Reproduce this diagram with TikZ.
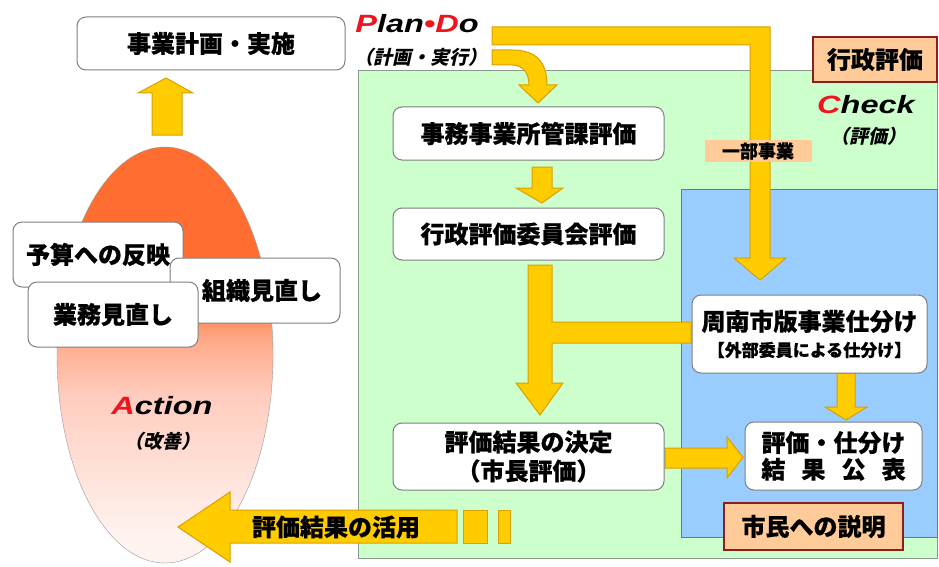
\documentclass[tikz,border=0pt]{standalone}
\usepackage{fontspec}
\setmainfont{Liberation Sans}
\newfontfamily\jp{Noto Sans CJK JP}[BoldFeatures={FakeBold=0.5}]
\newfontfamily\jpsl{Noto Sans CJK JP}[FakeSlant=0.22]
\newfontfamily\widelat{Liberation Sans}[FakeStretch=1.3]
\usetikzlibrary{calc}
\definecolor{gfill}{HTML}{CCFFCC}
\definecolor{gborder}{HTML}{8A9A8A}
\definecolor{bfill}{HTML}{99CCFF}
\definecolor{bborder}{HTML}{5C7C99}
\definecolor{yfill}{HTML}{FFCC00}
\definecolor{ydraw}{HTML}{D9A000}
\definecolor{peach}{HTML}{FFCC99}
\definecolor{darkred}{HTML}{8B1F1F}
\definecolor{boxgray}{HTML}{7F7F7F}
\definecolor{pdred}{HTML}{F0141E}
\definecolor{eorange}{HTML}{FF6E30}
\definecolor{esalmon}{HTML}{FFA988}
\definecolor{epink}{HTML}{FFCDBF}
\definecolor{elight}{HTML}{FFF3F0}
\pgfdeclareverticalshading{eshade}{100bp}{color(0bp)=(elight); color(28bp)=(elight); color(45bp)=(epink); color(52bp)=(esalmon); color(57bp)=(eorange); color(100bp)=(eorange)}
\newcommand\jpfont{\jp\bfseries\fontsize{24}{29}\selectfont}
\newcommand\latfont{\widelat\bfseries\itshape\fontsize{25}{30}\selectfont}
\tikzset{
  rbox/.style={draw=boxgray, line width=1pt, fill=white, rounded corners=9pt, inner sep=0pt, align=center, font=\jpfont},
  redbox/.style={draw=darkred, line width=2.2pt, fill=peach, inner sep=0pt, align=center, font=\jpfont},
  yarrow/.style={fill=yfill, draw=ydraw, line width=1pt, line join=miter},
  sltext/.style={font=\jpsl\bfseries\fontsize{19}{22}\selectfont, inner sep=0pt},
  lattext/.style={font=\latfont, inner sep=0pt},
}
\begin{document}
\begin{tikzpicture}[x=1pt,y=-1pt]
\useasboundingbox (0,0) rectangle (939,567);
\fill[white] (0,0) rectangle (939,567);
% regions
\draw[draw=gborder, fill=gfill, line width=1pt] (358,71) rectangle (937,558);
\draw[draw=bborder, fill=bfill, line width=1pt] (681,189) rectangle (937,537);
% ellipse
\shade[shading=eshade, draw=gray!80] (165,355) ellipse [x radius=108, y radius=208];
% arrows
\draw[yarrow] (492,27) -- (770,27) -- (770,258) -- (786,258) -- (760,280) -- (734,258) -- (750,258) -- (750,45) -- (492,45) -- cycle;
\draw[yarrow] (492,50) -- (512,50) .. controls (536,50) and (547,62) .. (547,85) -- (557,85) -- (538,103) -- (519,85) -- (529,85) .. controls (529,72) and (522,65) .. (512,65) -- (492,65) -- cycle;
\draw[yarrow] (532,167) -- (552,167) -- (552,188) -- (563,188) -- (542,203) -- (516,188) -- (532,188) -- cycle;
\draw[yarrow] (528,265) -- (552,265) -- (552,322) -- (691,322) -- (691,343) -- (552,343) -- (552,383) -- (563,383) -- (540,415) -- (516,383) -- (528,383) -- cycle;
\draw[yarrow] (837,373) -- (855,373) -- (855,407) -- (867,407) -- (846,420) -- (825,407) -- (837,407) -- cycle;
\draw[yarrow] (665,448) -- (727,448) -- (727,437) -- (743,457.5) -- (727,478) -- (727,468) -- (665,468) -- cycle;
\draw[yarrow] (152,135) -- (182,135) -- (182,93) -- (193,93) -- (166,78) -- (138,93) -- (152,93) -- cycle;
\draw[yarrow] (457,510) -- (230,510) -- (230,492) -- (178,527) -- (230,562) -- (230,543) -- (457,543) -- cycle;
\draw[yarrow] (463,510) rectangle (487,543);
\draw[yarrow] (498,510) rectangle (510,543);
% boxes
\node[rbox, minimum width=268, minimum height=53] (plan) at (211,43.5) {事業計画・実施};
\node[rbox, minimum width=271, minimum height=53] (b1) at (528.5,133.5) {事務事業所管課評価};
\node[rbox, minimum width=271, minimum height=52] (b2) at (528.5,234) {行政評価委員会評価};
\node[rbox, minimum width=271, minimum height=67] (b3) at (528.5,456.5) {評価結果の決定\\（市長評価）};
\node[rbox, minimum width=235, minimum height=78] (s1) at (809.5,334) {周南市版事業仕分け\\[-3pt]{\fontsize{17}{20}\selectfont【外部委員による仕分け】}};
\node[rbox, minimum width=177, minimum height=68, font=\jpfont\linespread{0.92}\selectfont] (s2) at (833.5,456) {評価・仕分け\\結\hspace{0.67em}果\hspace{0.67em}公\hspace{0.67em}表};
\node[redbox, minimum width=124, minimum height=45] (gov) at (875,59.5) {行政評価};
\node[redbox, minimum width=179, minimum height=47] (cit) at (813.5,526.5) {市民への説明};
\node[fill=peach, inner sep=0pt, minimum width=107, minimum height=22, font=\jp\bfseries\fontsize{18}{20}\selectfont] (ichibu) at (758,151) {一部事業};
\node[rbox, minimum width=170, minimum height=65] (yosan) at (98,254.5) {予算への反映};
\node[rbox, minimum width=170, minimum height=65] (soshiki) at (255,290.5) {\hspace{14pt}組織見直し};
\node[rbox, minimum width=170, minimum height=65] (gyomu) at (113,314.5) {業務見直し};
% label texts
\node[font=\jp\bfseries\fontsize{24}{28}\selectfont, inner sep=0pt] (katsuyo) at (336,527) {評価結果の活用};
\node[lattext] (pd) at (417,24) {\textcolor{pdred}{P}lan\textcolor{pdred}{•D}o};
\node[sltext] (pdj) at (421,57) {（計画・実行）};
\node[lattext] (chk) at (866,105) {\textcolor{pdred}{C}heck};
\node[sltext] (chkj) at (868,136) {（評価）};
\node[lattext] (act) at (162,406) {\textcolor{pdred}{A}ction};
\node[sltext] (actj) at (162,441) {（改善）};
\end{tikzpicture}
\end{document}
